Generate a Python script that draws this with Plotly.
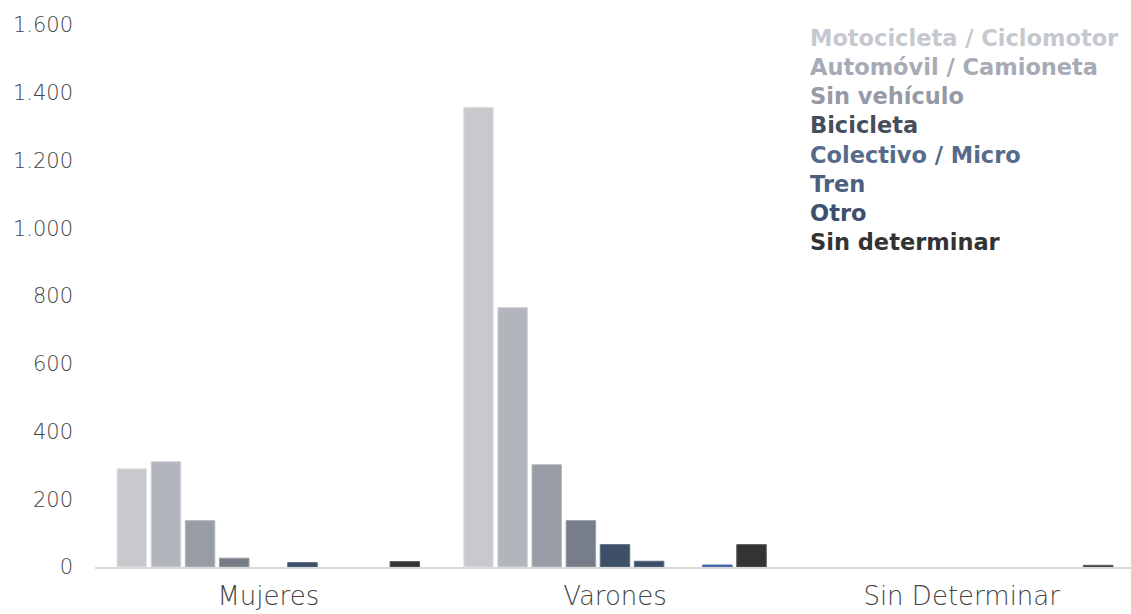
import plotly.graph_objects as go

categories = ["Mujeres", "Varones", "Sin Determinar"]

series_names = [
    "Motocicleta / Ciclomotor",
    "Automóvil / Camioneta",
    "Sin vehículo",
    "Bicicleta",
    "Colectivo / Micro",
    "Tren",
    "",
    "Otro",
    "Sin determinar",
]
moto = [290, 1357, None]
auto = [311, 766, None]
sin_vehiculo = [137, 302, None]
bicicleta = [26, 137, None]
colectivo = [None, 66, None]
tren = [13, 17, None]
vacio = [None, None, None]
otro = [None, 6, None]
sin_determinar = [16, 66, 5]
values = [moto, auto, sin_vehiculo, bicicleta, colectivo, tren, vacio, otro, sin_determinar]

bar_colors = ["#c8c9cd", "#b2b5bc", "#989ca5", "#777e89", "#3e5068",
              "#3d4f66", "#ffffff", "#3b5aa0", "#333333"]
line_colors = ["#e2e3e6", "#d2d4d8", "#b8bbc2", "#9aa0a9", "#5e6e84",
               "#5d6d84", "#ffffff", "#5a78b8", "#5a5a5a"]
legend_colors = ["#c5c8cf", "#a6abb6", "#959aa6", "#474e5b", "#566b8a",
                 "#4c6080", "#3e5070", "#333333"]
legend_labels = [n for n in series_names if n]

fig = go.Figure()
for name, vals, c, lc in zip(series_names, values, bar_colors, line_colors):
    fig.add_trace(go.Bar(
        x=categories, y=vals, name=name,
        marker=dict(color=c, line=dict(color=lc, width=1)),
        showlegend=False,
        hoverinfo="skip" if not name else None,
    ))

font_family = "DejaVu Sans, Open Sans, sans-serif"

# legend drawn as coloured text (no swatches in the original)
x0_px, width_px, l_px = 808, 1135, 95
for i, (lab, col) in enumerate(zip(legend_labels, legend_colors)):
    fig.add_annotation(
        text="<b>%s</b>" % lab, xref="paper", yref="paper",
        x=(x0_px - l_px) / (width_px - l_px), y=0.976 - i * 0.0538,
        xanchor="left", yanchor="middle",
        showarrow=False, font=dict(family=font_family, size=22.5, color=col),
    )

fig.update_layout(
    width=width_px, height=614,
    margin=dict(l=l_px, r=0, t=25, b=46.5),
    paper_bgcolor="white", plot_bgcolor="white",
    barmode="group", bargap=0.114, bargroupgap=0.135,
    separators=",.",
    font=dict(family=font_family, color="#454545"),
    xaxis=dict(
        showgrid=False, showline=True, linecolor="#d9d9d9", linewidth=2,
        tickfont=dict(size=26, color="#454545", weight=300), ticks="",
        ticklabelstandoff=5, automargin=False,
    ),
    yaxis=dict(
        range=[0, 1600], dtick=200, showgrid=False, zeroline=False, showline=False,
        separatethousands=True, tickfont=dict(size=21, color="#454545", weight=300),
        ticklabelstandoff=21, automargin=False,
    ),
)

fig.write_html(
    "out.html",
    config={"displayModeBar": False},
    post_script="document.body.style.margin='0';document.body.style.overflow='hidden';",
)
